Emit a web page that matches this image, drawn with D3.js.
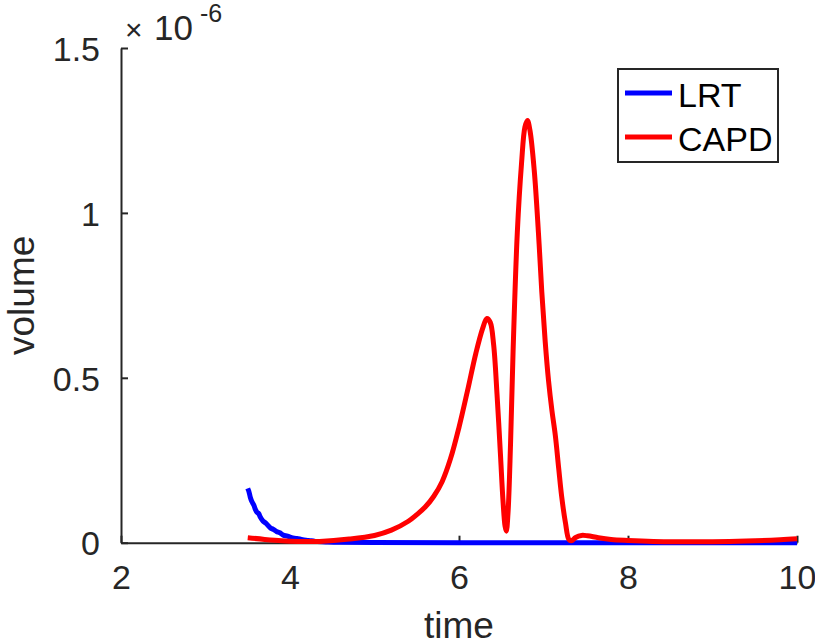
<!doctype html>
<html lang="en">
<head>
  <meta charset="utf-8">
  <title>volume vs time</title>
  <script src="https://cdn.jsdelivr.net/npm/d3@7/dist/d3.min.js"></script>
  <style>
    body { margin: 0; background: #fff; }
    text { font-family: "Liberation Sans", Arial, Helvetica, sans-serif; }
  </style>
</head>
<body>
<script>
  // values are in units of 1e-6 (the axis carries the x10^-6 exponent)
  const yExponent = -6;
  const xTicks = [2, 4, 6, 8, 10];
  const yTicks = [0, 0.5, 1, 1.5];
  const seriesNames = ["LRT", "CAPD"];
  const seriesColors = ["#0000ff", "#ff0000"];

  const lrtTime = [3.50, 3.51, 3.52, 3.53, 3.55, 3.57, 3.59, 3.61, 3.63, 3.65, 3.68, 3.71, 3.74, 3.77, 3.80,
    3.84, 3.88, 3.92, 3.97, 4.02, 4.08, 4.15, 4.22, 4.30, 4.45, 4.60, 5.00, 6.00, 8.00, 10.00];
  const lrtVolume = [0.165, 0.158, 0.149, 0.138, 0.124, 0.115, 0.101, 0.092, 0.088, 0.077, 0.066, 0.060, 0.052, 0.044, 0.041,
    0.034, 0.030, 0.023, 0.020, 0.015, 0.013, 0.009, 0.007, 0.004, 0.002, 0.001, 0.0003, 0, 0, 0];

  const capdTime = [3.50, 3.70, 3.90, 4.10, 4.35, 4.70, 5.00, 5.20, 5.40, 5.50, 5.60, 5.70, 5.80, 5.90,
    6.00, 6.10, 6.20, 6.28, 6.33, 6.37, 6.41, 6.45, 6.49, 6.52, 6.545, 6.56, 6.58, 6.61,
    6.64, 6.69, 6.74, 6.78, 6.81, 6.84, 6.89, 6.94, 6.98, 7.02, 7.06, 7.10, 7.14, 7.18, 7.215, 7.26, 7.30,
    7.33, 7.38, 7.45, 7.52, 7.65, 7.80, 8.00, 8.30, 8.60, 9.00, 9.40, 9.80, 10.00];
  const capdVolume = [0.015, 0.010, 0.006, 0.004, 0.004, 0.011, 0.022, 0.038, 0.065, 0.085, 0.108, 0.140, 0.185, 0.255,
    0.350, 0.460, 0.575, 0.650, 0.680, 0.668, 0.600, 0.450, 0.270, 0.130, 0.050, 0.035, 0.090, 0.300,
    0.580, 0.940, 1.150, 1.260, 1.280, 1.250, 1.130, 0.940, 0.760, 0.610, 0.490, 0.400, 0.325, 0.225, 0.140, 0.060, 0.010,
    0.006, 0.016, 0.022, 0.021, 0.015, 0.010, 0.007, 0.004, 0.003, 0.003, 0.005, 0.009, 0.012];

  const W = 815, H = 644;
  const ink = "#262626";

  const svg = d3.select("body").append("svg")
    .attr("width", W)
    .attr("height", H)
    .attr("xmlns", "http://www.w3.org/2000/svg");

  const x = d3.scaleLinear().domain([2, 10]).range([121, 797]);
  const y = d3.scaleLinear().domain([0, 1.5]).range([542.7, 48]);

  // axes (box off, ticks pointing in)
  const xAxis = svg.append("g")
    .attr("transform", `translate(0,${y(0)})`)
    .call(d3.axisBottom(x).tickValues(xTicks).tickSizeInner(-7).tickSizeOuter(0).tickPadding(22).tickFormat(d3.format("d")));
  const yAxis = svg.append("g")
    .attr("transform", `translate(${x(2)},0)`)
    .call(d3.axisLeft(y).tickValues(yTicks).tickSizeInner(-7).tickSizeOuter(0).tickPadding(21).tickFormat(d => d3.format("")(d)));

  [xAxis, yAxis].forEach(g => {
    g.select(".domain").attr("stroke", ink).attr("stroke-width", 2);
    g.selectAll(".tick line").attr("stroke", ink).attr("stroke-width", 2);
    g.selectAll(".tick text").attr("fill", ink).style("font-size", "34px");
  });
  yAxis.selectAll(".tick text").attr("dy", "0.36em");

  // exponent label
  const expo = svg.append("g").attr("fill", ink);
  expo.append("text").attr("x", 125).attr("y", 40).style("font-size", "30px").text("\u00d7");
  expo.append("text").attr("x", 154).attr("y", 40).style("font-size", "35px").text("10");
  expo.append("text").attr("x", 200).attr("y", 22).style("font-size", "25px").text(String(yExponent));

  // axis labels
  svg.append("text")
    .attr("x", (x(2) + x(10)) / 2).attr("y", 638)
    .attr("text-anchor", "middle").attr("fill", ink)
    .style("font-size", "37px").text("time");
  svg.append("text")
    .attr("transform", `translate(34,${(y(0) + y(1.5)) / 2}) rotate(-90)`)
    .attr("text-anchor", "middle").attr("fill", ink)
    .style("font-size", "37px").text("volume");

  // lines
  const line = d3.line().x(d => x(d[0])).y(d => y(d[1])).curve(d3.curveCatmullRom.alpha(0.5));
  const series = [
    d3.zip(lrtTime, lrtVolume),
    d3.zip(capdTime, capdVolume)
  ];
  series.forEach((pts, i) => {
    svg.append("path")
      .datum(pts)
      .attr("fill", "none")
      .attr("stroke", seriesColors[i])
      .attr("stroke-width", 5)
      .attr("stroke-linejoin", "round")
      .attr("d", line);
  });

  // legend
  const legend = svg.append("g");
  legend.append("rect")
    .attr("x", 618).attr("y", 69).attr("width", 160).attr("height", 93)
    .attr("fill", "#fff").attr("stroke", ink).attr("stroke-width", 2);
  seriesNames.forEach((name, i) => {
    const ly = 93 + i * 44;
    legend.append("line")
      .attr("x1", 625).attr("x2", 672).attr("y1", ly).attr("y2", ly)
      .attr("stroke", seriesColors[i]).attr("stroke-width", 5);
    legend.append("text")
      .attr("x", 678).attr("y", ly + 14)
      .attr("fill", "#000").style("font-size", "34px")
      .text(name);
  });
</script>
</body>
</html>
